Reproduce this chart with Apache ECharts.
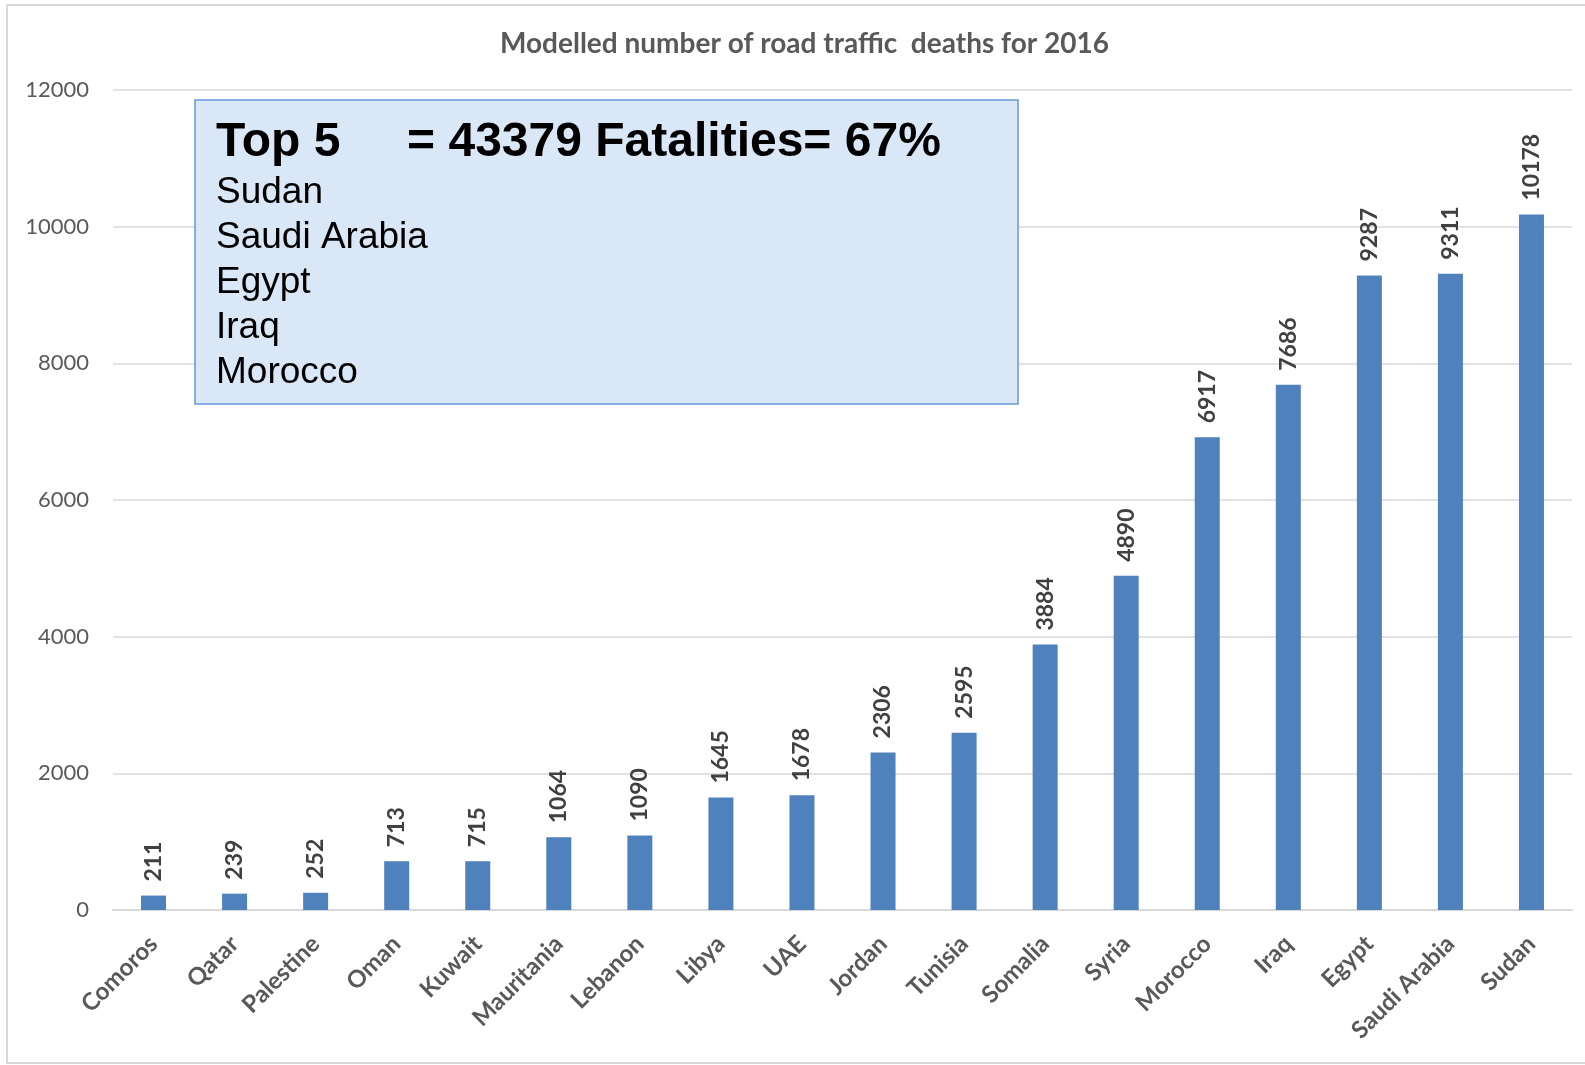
<!DOCTYPE html>
<html>
<head>
<meta charset="utf-8">
<script src="https://cdn.jsdelivr.net/npm/echarts@6/dist/echarts.min.js"></script>
<style>
html,body{margin:0;padding:0;background:#fff;}
#chart{width:1585px;height:1065px;}
</style>
</head>
<body>
<div id="chart"></div>
<script>
const countries = ['Comoros','Qatar','Palestine','Oman','Kuwait','Mauritania','Lebanon','Libya','UAE','Jordan','Tunisia','Somalia','Syria','Morocco','Iraq','Egypt','Saudi Arabia','Sudan'];
const deaths = [211,239,252,713,715,1064,1090,1645,1678,2306,2595,3884,4890,6917,7686,9287,9311,10178];
const chartTitle = 'Modelled number of road traffic  deaths for 2016';
const boxHeadline = 'Top 5     = 43379 Fatalities= 67%';
const boxLines = ['Sudan','Saudi Arabia','Egypt','Iraq','Morocco'];

const chart = echarts.init(document.getElementById('chart'), null, {renderer:'canvas'});

const graphics = [
  {type:'rect', z:0, silent:true, shape:{x:7,y:5,width:1590,height:1058}, style:{fill:'none',stroke:'#d9d9d9',lineWidth:2}},
  {type:'rect', z:100, shape:{x:195,y:100,width:823,height:304}, style:{fill:'#dae7f6',stroke:'#6498dc',lineWidth:1.5}},
  {type:'text', z:101, x:216, y:143, style:{text:boxHeadline, font:'bold 48px "Liberation Sans", Arial, sans-serif', fill:'#000', verticalAlign:'middle', align:'left'}}
];
boxLines.forEach((t,i)=>{
  graphics.push({type:'text', z:101, x:216, y:193 + i*45, style:{text:t, font:'37px "Liberation Sans", Arial, sans-serif', fill:'#000', verticalAlign:'middle', align:'left'}});
});

chart.setOption({
  animation:false,
  backgroundColor:'#fff',
  title:{
    text:chartTitle,
    left:495, top:25,
    textStyle:{fontFamily:'Lato', fontWeight:'bold', fontSize:28, color:'#595959'}
  },
  grid:{left:113, right:13, top:90, bottom:155, containLabel:false},
  xAxis:{
    type:'category',
    data:countries,
    axisLine:{lineStyle:{color:'#d9d9d9',width:2}},
    axisTick:{show:false},
    axisLabel:{rotate:45, margin:30, interval:0, fontFamily:'Lato', fontWeight:'bold', fontSize:24, color:'#595959'}
  },
  yAxis:{
    type:'value',
    min:0, max:12000, interval:2000,
    axisLine:{show:false},
    axisTick:{show:false},
    splitLine:{lineStyle:{color:'#d9d9d9',width:1.5}},
    axisLabel:{margin:24, fontFamily:'Lato', fontSize:22, color:'#595959', formatter:function(v){return String(v);}}
  },
  series:[{
    type:'bar',
    data:deaths,
    barWidth:25,
    itemStyle:{color:'#4f81bd'},
    label:{
      show:true, position:'top', rotate:90, align:'left', verticalAlign:'middle', distance:14,
      fontFamily:'Lato', fontWeight:'bold', fontSize:23, color:'#404040'
    }
  }],
  graphic:graphics
});
</script>
</body>
</html>
